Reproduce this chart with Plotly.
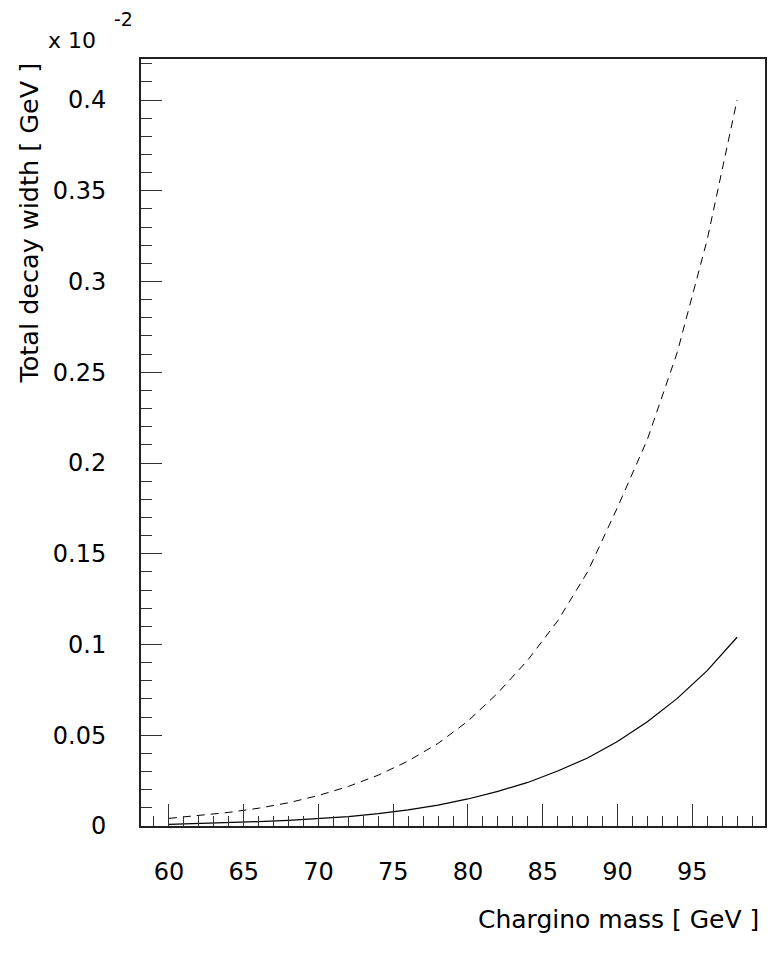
import plotly.graph_objects as go

# Chargino mass [GeV]
mass = [60, 62, 64, 66, 68, 70, 72, 74, 76, 78, 80, 82, 84, 86, 88, 90, 92, 94, 96, 98]
# Total decay width (x 10^-2 GeV)
width_solid = [0.0009, 0.0013, 0.0018, 0.0024, 0.0031, 0.0040, 0.0052, 0.0068, 0.0089, 0.0115,
               0.0149, 0.0191, 0.0240, 0.0303, 0.0375, 0.0465, 0.0575, 0.0703, 0.0856, 0.1040]
width_dashed = [0.0042, 0.0057, 0.0075, 0.0098, 0.0128, 0.0168, 0.0218, 0.0280, 0.0358, 0.0455,
                0.0578, 0.0733, 0.0914, 0.1130, 0.1400, 0.1755, 0.2130, 0.2610, 0.3230, 0.4000]

x_ticks = [60, 65, 70, 75, 80, 85, 90, 95]
x_ticklabels = ["60", "65", "70", "75", "80", "85", "90", "95"]
y_ticks = [0, 0.05, 0.1, 0.15, 0.2, 0.25, 0.3, 0.35, 0.4]
y_ticklabels = ["0", "0.05", "0.1", "0.15", "0.2", "0.25", "0.3", "0.35", "0.4"]

FONT = "DejaVu Sans"

fig = go.Figure()
fig.add_trace(go.Scatter(x=mass, y=width_dashed, mode="lines",
                         line=dict(color="black", width=1, dash="8px,6px"), showlegend=False))
fig.add_trace(go.Scatter(x=mass, y=width_solid, mode="lines",
                         line=dict(color="black", width=1.2), showlegend=False))

axis_common = dict(showgrid=False, zeroline=False, showline=True, linecolor="#222",
                   linewidth=2, mirror=True, ticks="inside", tickcolor="#333", tickwidth=1,
                   tickfont=dict(family=FONT, size=24, color="black"))

fig.update_xaxes(range=[58.133, 99.867], tickmode="array", tickvals=x_ticks, ticktext=x_ticklabels,
                 ticklen=22, ticklabelstandoff=23,
                 minor=dict(dtick=1, tick0=0, ticklen=10, ticks="inside", tickcolor="#333", tickwidth=1),
                 **axis_common)
fig.update_yaxes(range=[0, 0.4226], tickmode="array", tickvals=y_ticks, ticktext=y_ticklabels,
                 ticklen=21, ticklabelstandoff=28,
                 minor=dict(dtick=0.01, tick0=0, ticklen=11, ticks="inside", tickcolor="#333", tickwidth=1),
                 **axis_common)

fig.add_annotation(text="Chargino mass [ GeV ]", xref="paper", yref="paper", x=1, y=0,
                   xanchor="right", yanchor="middle", xshift=-4, yshift=-93, showarrow=False,
                   font=dict(family=FONT, size=25, color="black"))
fig.add_annotation(text="Total decay width [ GeV ]", xref="paper", yref="paper", x=0, y=1,
                   xanchor="center", yanchor="top", xshift=-113, yshift=-2, textangle=-90,
                   showarrow=False, font=dict(family=FONT, size=25.5, color="black"))
fig.add_annotation(text="x 10", xref="paper", yref="paper", x=0, y=1,
                   xanchor="left", yanchor="middle", xshift=-95, yshift=19, showarrow=False,
                   font=dict(family=FONT, size=22, color="black"))
fig.add_annotation(text="-2", xref="paper", yref="paper", x=0, y=1,
                   xanchor="left", yanchor="middle", xshift=-29, yshift=40, showarrow=False,
                   font=dict(family=FONT, size=19, color="black"))

fig.update_layout(width=772, height=963, margin=dict(l=141, r=5, t=59, b=137),
                  paper_bgcolor="white", plot_bgcolor="white")

fig.write_html("out.html")
